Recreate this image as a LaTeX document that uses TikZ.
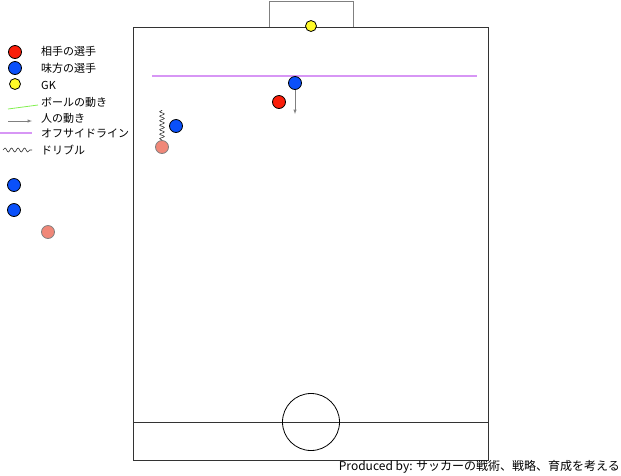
\documentclass[tikz,border=0pt]{standalone}
\usepackage{fontspec}
\setmainfont{Noto Sans CJK JP}
\usetikzlibrary{decorations.pathmorphing}
\definecolor{rivalred}{RGB}{250,30,10}
\definecolor{mateblue}{RGB}{10,80,250}
\definecolor{gkyellow}{RGB}{255,250,40}
\definecolor{dribpink}{RGB}{240,135,120}
\definecolor{offviolet}{RGB}{215,150,245}
\definecolor{ballgreen}{RGB}{130,240,80}
\begin{document}
\begin{tikzpicture}[x=1pt,y=-1pt,
	player/.style={circle,draw=black,line width=0.8pt,minimum size=13pt,inner sep=0pt},
	rival/.style={player,fill=rivalred},
	mate/.style={player,fill=mateblue},
	keeper/.style={player,fill=gkyellow,minimum size=11pt},
	dribbler/.style={player,fill=dribpink,draw=gray},
	legtext/.style={anchor=west,inner sep=0pt,font=\fontsize{11}{12}\selectfont},
	pitch/.style={draw=black!80,line width=0.9pt},
	offside/.style={draw=offviolet,line width=1.5pt},
	dribble/.style={decorate,decoration={snake,amplitude=2.3pt,segment length=4.5pt}}]

		\useasboundingbox (0,0) rectangle (621,475);

		% pitch
		\draw[pitch] (133,27) rectangle (488,460);
		\draw[pitch,draw=gray] (269,27) -- (269,1) -- (353,1) -- (353,27);
		\draw[pitch] (133,422) -- (488,422);
		\node[circle,draw=black,line width=0.8pt,minimum size=57pt,inner sep=0pt] (centre) at (311,422) {};

		% offside line
		\coordinate (offL) at (152,76);
		\coordinate (offR) at (477,76);
		\draw[offside] (offL) -- (offR);

		% players
		\node[keeper] (gk) at (311,26) {};
		\node[mate] (mateA) at (295,83) {};
		\node[rival] (rivalA) at (279,102) {};
		\node[mate] (mateB) at (176,126) {};
		\node[dribbler] (dribA) at (162,147) {};
		\coordinate (runA) at (295,114);
		\coordinate (dribEnd) at (162,110);
		\draw[-latex,gray,line width=0.5pt] (mateA) -- (runA);
		\draw[dribble,black!80,line width=0.6pt] (dribA) -- (dribEnd);

		% legend
		\node[rival] (legRival) at (15,52) {};
		\node[mate] (legMate) at (15,68) {};
		\node[keeper] (legGK) at (15,84) {};
		\node[legtext] (txtRival) at (41,51) {相手の選手};
		\node[legtext] (txtMate) at (41,68) {味方の選手};
		\node[legtext] (txtGK) at (41,85) {GK};

		\coordinate (ballA) at (8,109);
		\coordinate (ballB) at (38,105);
		\draw[ballgreen,line width=0.8pt] (ballA) -- (ballB);
		\node[legtext] (txtBall) at (41,102) {ボールの動き};

		\coordinate (runL) at (8,121);
		\coordinate (runR) at (32,121);
		\draw[-latex,gray,line width=0.5pt] (runL) -- (runR);
		\node[legtext] (txtRun) at (41,118) {人の動き};

		\coordinate (legOffL) at (0,133);
		\coordinate (legOffR) at (32,133);
		\draw[offside] (legOffL) -- (legOffR);
		\node[legtext] (txtOff) at (41,133) {オフサイドライン};

		\coordinate (legDribL) at (3,150);
		\coordinate (legDribR) at (32,150);
		\draw[dribble,decoration={segment length=6.5pt,amplitude=2pt},black!80,line width=0.6pt] (legDribL) -- (legDribR);
		\node[legtext] (txtDrib) at (41,150) {ドリブル};

		% spare pieces
		\node[mate] (spareA) at (14,185) {};
		\node[mate] (spareB) at (14,210) {};
		\node[dribbler] (spareC) at (48,232) {};

		% credit
		\node[anchor=east,inner sep=0pt,font=\fontsize{12}{13}\selectfont] (credit) at (620,467) {Produced by: サッカーの戦術、戦略、育成を考える};

\end{tikzpicture}
\end{document}
